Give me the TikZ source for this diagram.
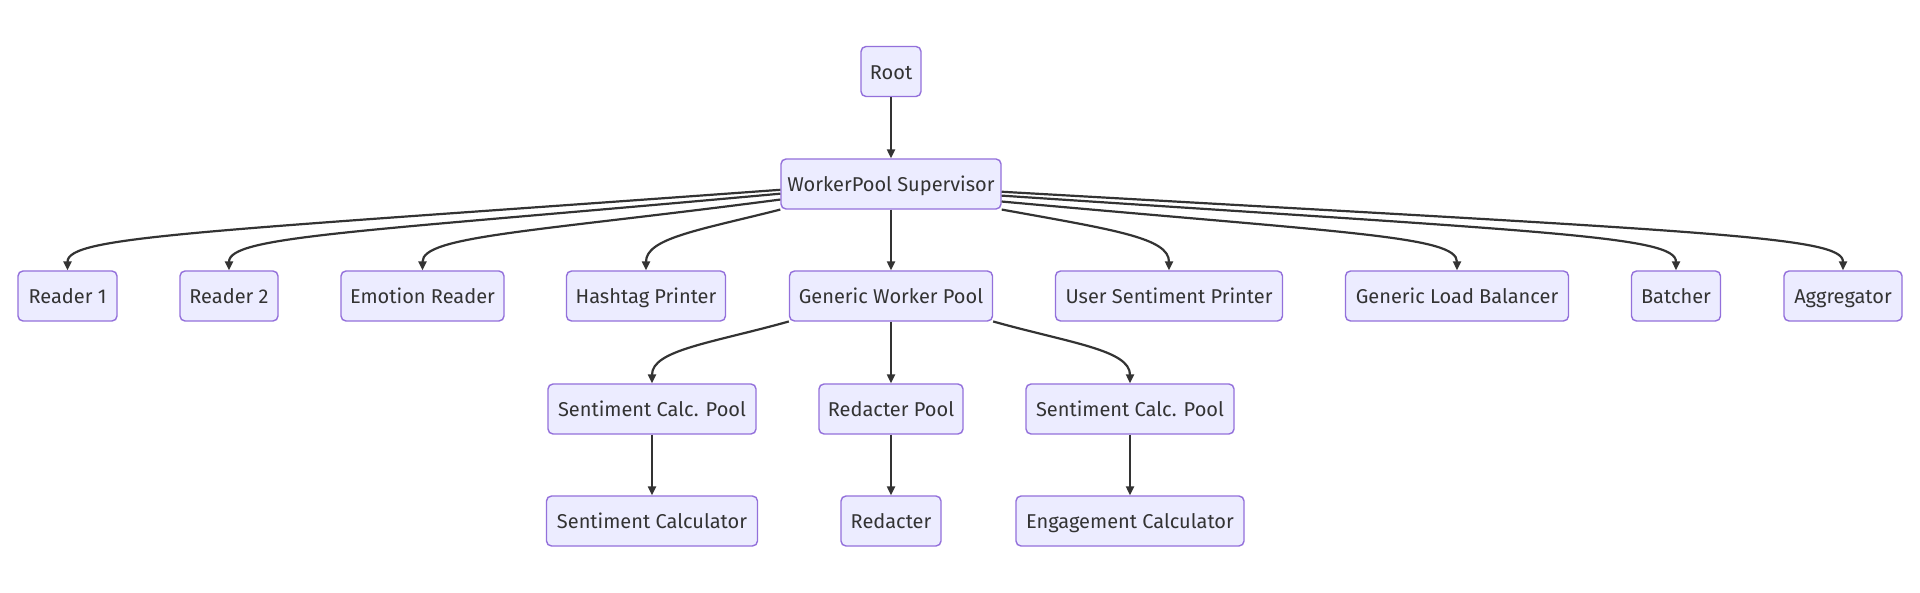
\documentclass[tikz,border=0pt]{standalone}
\usepackage{fontspec}
\setmainfont{Fira Sans}
\usetikzlibrary{arrows.meta}

\definecolor{boxfill}{HTML}{ECECFF}
\definecolor{boxline}{HTML}{9370DB}
\definecolor{linkcol}{HTML}{333333}

\begin{document}
\begin{tikzpicture}[x=1pt, y=-1pt,
        box/.style={draw=boxline, fill=boxfill, line width=1.4pt, rounded corners=5pt,
            minimum height=50pt, inner sep=0pt, text height=18pt, text depth=2.6pt,
            text=linkcol, font=\fontsize{20}{24}\selectfont},
        link/.style={draw=linkcol, line width=2.2pt, -{Triangle[length=9pt,width=8pt]}}]
            \useasboundingbox[fill=white] (0,0) rectangle (1920,593);

            % top
            \node[box, minimum width=60pt]  (root) at (891,71.5) {Root};
            \node[box, minimum width=220pt] (wps)  at (891,184)  {WorkerPool Supervisor};

            % children of the supervisor
            \node[box, minimum width=99pt]  (rdone)  at (67.5,296) {Reader 1};
            \node[box, minimum width=98pt]  (rdtwo)  at (229,296)  {Reader 2};
            \node[box, minimum width=163pt] (emo)    at (422.5,296) {Emotion Reader};
            \node[box, minimum width=159pt] (hash)   at (646,296)  {Hashtag Printer};
            \node[box, minimum width=203pt] (gwp)    at (891,296)  {Generic Worker Pool};
            \node[box, minimum width=227pt] (usp)    at (1169,296) {User Sentiment Printer};
            \node[box, minimum width=223pt] (glb)    at (1457,296) {Generic Load Balancer};
            \node[box, minimum width=89pt]  (bat)    at (1676,296) {Batcher};
            \node[box, minimum width=118pt] (agg)    at (1843,296) {Aggregator};

            % pools
            \node[box, minimum width=208pt] (scpone) at (652,409)  {Sentiment Calc. Pool};
            \node[box, minimum width=144pt] (rpool)  at (891,409)  {Redacter Pool};
            \node[box, minimum width=208pt] (scptwo) at (1130,409) {Sentiment Calc. Pool};

            % workers
            \node[box, minimum width=211pt] (scalc)  at (652,521)  {Sentiment Calculator};
            \node[box, minimum width=100pt] (red)    at (891,521)  {Redacter};
            \node[box, minimum width=228pt] (ecalc)  at (1130,521) {Engagement Calculator};

            \draw[link] (root) -- (wps);

            \draw[link] (wps.183.6) .. controls (200,232) and (67.5,236) .. (rdone.north);
            \draw[link] (wps.185.7) .. controls (359,232) and (229,236) .. (rdtwo.north);
            \draw[link] (wps.188.3) .. controls (532,232) and (422.5,236) .. (emo.north);
            \draw[link] (wps.193) .. controls (700,230) and (646,238) .. (hash.north);
            \draw[link] (wps) -- (gwp);
            \draw[link] (wps.347) .. controls (1115,230) and (1169,238) .. (usp.north);
            \draw[link] (wps.351.7) .. controls (1347,233) and (1457,236) .. (glb.north);
            \draw[link] (wps.354.3) .. controls (1550,232) and (1676,236) .. (bat.north);
            \draw[link] (wps.356.4) .. controls (1710,232) and (1843,236) .. (agg.north);

            \draw[link] (gwp.194) .. controls (712,343) and (652,350) .. (scpone.north);
            \draw[link] (gwp) -- (rpool);
            \draw[link] (gwp.346) .. controls (1070,343) and (1130,350) .. (scptwo.north);

            \draw[link] (scpone) -- (scalc);
            \draw[link] (rpool) -- (red);
            \draw[link] (scptwo) -- (ecalc);
\end{tikzpicture}
\end{document}
